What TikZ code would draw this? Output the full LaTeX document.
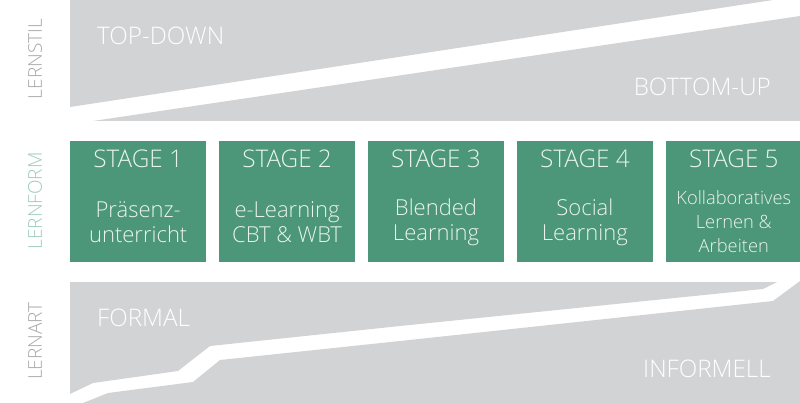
\documentclass[tikz,border=0pt]{standalone}
\usepackage{fontspec}
\IfFontExistsTF{Open Sans Light}{\setmainfont{Open Sans Light}}{\setmainfont{Open Sans}}
\usepackage{tikz}
\usetikzlibrary{positioning}
\definecolor{bandgray}{HTML}{D2D3D5}
\definecolor{stagegreen}{HTML}{4C967A}
\definecolor{sidegray}{HTML}{A8A8A8}
\definecolor{sidegreen}{HTML}{9CCBB8}
\definecolor{stagetext}{HTML}{EAF4EF}
\begin{document}
\begin{tikzpicture}[x=1pt,y=1pt,
                stagebox/.style={fill=stagegreen,inner sep=0pt,minimum width=136pt,minimum height=121pt},
                stagetitle/.style={text=stagetext,inner sep=0pt,font=\fontsize{24.3}{26}\selectfont},
                stagebody/.style={text=stagetext,inner sep=0pt,align=center,font=\fontsize{22}{25}\selectfont},
                sidelabel/.style={rotate=90,inner sep=0pt,font=\fontsize{19}{21}\selectfont},
                bandlabel/.style={text=white,inner sep=0pt,font=\fontsize{24.2}{26}\selectfont}]
                \useasboundingbox (0,0) rectangle (800,-403);
                % Lernstil
                \fill [bandgray] (70,0) -- (773,0) -- (70,-107) -- cycle;
                \fill [bandgray] (93,-121) -- (800,-16) -- (800,-121) -- cycle;
                \node [bandlabel,anchor=base west] (topdown) at (97,-45) {TOP-DOWN};
                \node [bandlabel,anchor=base east] (bottomup) at (771,-96) {BOTTOM-UP};
                \node [sidelabel,text=sidegray] (lernstil) at (35,-59) {LERNSTIL};
                % Lernform
                \node [stagebox,anchor=north west] (s1) at (70,-141) {};
                \node [stagebox,right=12.5pt of s1] (s2) {};
                \node [stagebox,right=12.5pt of s2] (s3) {};
                \node [stagebox,right=12.5pt of s3] (s4) {};
                \node [stagebox,right=12.5pt of s4] (s5) {};
                \node [stagetitle,anchor=base] (t1) at (s1.center |- 0,-168) {STAGE 1};
                \node [stagetitle,anchor=base] (t2) at (s2.center |- 0,-168) {STAGE 2};
                \node [stagetitle,anchor=base] (t3) at (s3.center |- 0,-168) {STAGE 3};
                \node [stagetitle,anchor=base] (t4) at (s4.center |- 0,-168) {STAGE 4};
                \node [stagetitle,anchor=base] (t5) at (s5.center |- 0,-168) {STAGE 5};
                \node [stagebody] (b1) at (s1.center |- 0,-222) {Präsenz-\\unterricht};
                \node [stagebody] (b2) at (s2.center |- 0,-222) {e-Learning\\CBT \& WBT};
                \node [stagebody] (b3) at (s3.center |- 0,-222) {Blended\\Learning};
                \node [stagebody] (b4) at (s4.center |- 0,-222) {Social\\Learning};
                \node [stagebody,font=\fontsize{18.3}{24}\selectfont] (b5) at (s5.center |- 0,-222) {Kollaboratives\\Lernen \&\\Arbeiten};
                \node [sidelabel,text=sidegreen] (lernform) at (35,-201) {LERNFORM};
                % Lernart
                \fill [bandgray] (70,-282) -- (777,-282) -- (763,-289) -- (400,-326) -- (210,-346)
                        -- (178,-371) -- (93,-383) -- (70,-394) -- cycle;
                \fill [bandgray] (83,-403) -- (108,-393) -- (193,-382) -- (220,-360) -- (400,-341)
                        -- (773,-301) -- (800,-281) -- (800,-403) -- cycle;
                \node [bandlabel,anchor=base west] (formal) at (97,-326) {FORMAL};
                \node [bandlabel,anchor=base east] (informell) at (771,-377) {INFORMELL};
                \node [sidelabel,text=sidegray] (lernart) at (35,-341) {LERNART};
\end{tikzpicture}
\end{document}
